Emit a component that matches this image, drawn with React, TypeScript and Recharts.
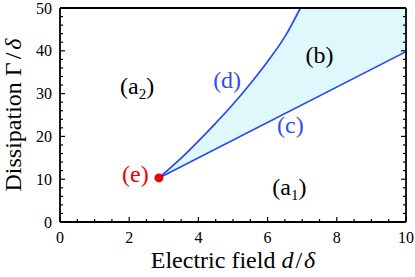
import {
  ComposedChart,
  Line,
  Area,
  Scatter,
  XAxis,
  YAxis,
  Label,
  ReferenceDot,
} from "recharts";

// axis ticks (minor + major)
const X_TICKS = [0, 0.5, 1, 1.5, 2, 2.5, 3, 3.5, 4, 4.5, 5, 5.5, 6, 6.5, 7, 7.5, 8, 8.5, 9, 9.5, 10];
const Y_TICKS = [0, 2, 4, 6, 8, 10, 12, 14, 16, 18, 20, 22, 24, 26, 28, 30, 32, 34, 36, 38, 40, 42, 44, 46, 48, 50];

// curve (d)
const D_X = [2.86, 3.5, 4.0, 4.5, 5.0, 5.5, 6.0, 6.5, 6.95];
const D_Y = [10.3, 14.9, 18.9, 23.1, 27.5, 32.3, 37.5, 43.3, 50];

// line (c)
const C_X = [2.86, 10];
const C_Y = [10.3, 39.8];

// shaded region (b), between (c) and (d), capped at the top edge
const BAND_X = [2.86, 3.5, 4.0, 4.5, 5.0, 5.5, 6.0, 6.5, 6.95, 8, 10];
const BAND_LOW = [10.3, 12.94, 15.0, 17.1, 19.1, 21.2, 23.3, 25.3, 27.2, 31.5, 39.8];
const BAND_HIGH = [10.3, 14.9, 18.9, 23.1, 27.5, 32.3, 37.5, 43.3, 50, 50, 50];

// point (e)
const E_X = [2.86];
const E_Y = [10.3];

// region labels
const LABELS = [
  { text: "(a", sub: "2", x: 2.23, y: 31.3, color: "#000" },
  { text: "(b)", x: 7.5, y: 38.5, color: "#000" },
  { text: "(d)", x: 4.83, y: 32.7, color: "#2f4ff0" },
  { text: "(c)", x: 6.66, y: 22.2, color: "#2f4ff0" },
  { text: "(e)", x: 2.18, y: 10.7, color: "#f00000" },
  { text: "(a", sub: "1", x: 6.63, y: 7.7, color: "#000" },
];

const FONT = "'Liberation Serif', 'Times New Roman', serif";
const BLUE = "#2a48f2";
const serif = { fontFamily: FONT };

const dData = D_X.map((x, i) => ({ x, y: D_Y[i] }));
const cData = C_X.map((x, i) => ({ x, y: C_Y[i] }));
const bandData = BAND_X.map((x, i) => ({ x, range: [BAND_LOW[i], BAND_HIGH[i]] }));
const eData = E_X.map((x, i) => ({ x, y: E_Y[i] }));

const BottomTick = (props: any) => {
  const { x, y, payload } = props;
  const major = payload.value % 2 === 0;
  return (
    <g>
      <line x1={x} x2={x} y1={y} y2={y - (major ? 5 : 3)} stroke="#000" strokeWidth={1.2} />
      {major && (
        <text x={x} y={y + 21} textAnchor="middle" fontSize={16} style={serif} fill="#000">
          {payload.value}
        </text>
      )}
    </g>
  );
};

const TopTick = (props: any) => {
  const { x, y, payload } = props;
  const major = payload.value % 2 === 0;
  return <line x1={x} x2={x} y1={y} y2={y + (major ? 5 : 3)} stroke="#000" strokeWidth={1.2} />;
};

const LeftTick = (props: any) => {
  const { x, y, payload } = props;
  const major = payload.value % 10 === 0;
  return (
    <g>
      <line x1={x} x2={x + (major ? 5 : 3)} y1={y} y2={y} stroke="#000" strokeWidth={1.2} />
      {major && (
        <text x={x - 8} y={y} dy="0.35em" textAnchor="end" fontSize={16} style={serif} fill="#000">
          {payload.value}
        </text>
      )}
    </g>
  );
};

const RightTick = (props: any) => {
  const { x, y, payload } = props;
  const major = payload.value % 10 === 0;
  return <line x1={x} x2={x - (major ? 5 : 3)} y1={y} y2={y} stroke="#000" strokeWidth={1.2} />;
};

const XTitle = (props: any) => {
  const { viewBox } = props;
  return (
    <text x={viewBox.x + viewBox.width / 2} y={viewBox.y + 46} textAnchor="middle" fontSize={24} style={serif} fill="#000">
      Electric field <tspan fontStyle="italic">d</tspan>
      <tspan dx={2}>/</tspan>
      <tspan dx={2} fontStyle="italic">δ</tspan>
    </text>
  );
};

const YTitle = (props: any) => {
  const { viewBox } = props;
  const cx = 21;
  const cy = viewBox.y + viewBox.height / 2;
  return (
    <text
      x={cx}
      y={cy}
      transform={`rotate(-90 ${cx} ${cy})`}
      textAnchor="middle"
      fontSize={24}
      style={serif}
      fill="#000"
    >
      Dissipation Γ<tspan dx={3}>/</tspan>
      <tspan dx={3} fontStyle="italic">δ</tspan>
    </text>
  );
};

const regionLabel = (l: (typeof LABELS)[number]) => (p: any) => (
  <text x={p.cx} y={p.cy + 6} textAnchor="middle" fontSize={24} style={serif} fill={l.color}>
    {l.text}
    {l.sub && (
      <>
        <tspan fontSize={15} dy={5}>
          {l.sub}
        </tspan>
        <tspan dy={-5}>)</tspan>
      </>
    )}
  </text>
);

export default function App() {
  return (
    <div style={{ position: "absolute", left: 0, top: 0, background: "#fff", fontFamily: FONT }}>
      <ComposedChart width={415} height={277} margin={{ top: 7, right: 8, bottom: 0, left: 0 }}>
        <XAxis
          xAxisId={0}
          type="number"
          dataKey="x"
          domain={[0, 10]}
          ticks={X_TICKS}
          interval={0}
          height={55}
          tickSize={0}
          tickMargin={0}
          tickLine={false}
          tick={BottomTick}
          axisLine={{ stroke: "#000", strokeWidth: 1.8 }}
          allowDataOverflow
        >
          <Label content={XTitle} />
        </XAxis>
        <XAxis
          xAxisId="top"
          orientation="top"
          type="number"
          domain={[0, 10]}
          ticks={X_TICKS}
          interval={0}
          height={1}
          tickSize={0}
          tickMargin={0}
          tickLine={false}
          tick={TopTick}
          axisLine={{ stroke: "#000", strokeWidth: 1.8 }}
          allowDataOverflow
        />
        <YAxis
          yAxisId={0}
          type="number"
          domain={[0, 50]}
          ticks={Y_TICKS}
          interval={0}
          width={60}
          tickSize={0}
          tickMargin={0}
          tickLine={false}
          tick={LeftTick}
          axisLine={{ stroke: "#000", strokeWidth: 1.8 }}
          allowDataOverflow
        >
          <Label content={YTitle} />
        </YAxis>
        <YAxis
          yAxisId="right"
          orientation="right"
          type="number"
          domain={[0, 50]}
          ticks={Y_TICKS}
          interval={0}
          width={1}
          tickSize={0}
          tickMargin={0}
          tickLine={false}
          tick={RightTick}
          axisLine={{ stroke: "#000", strokeWidth: 1.8 }}
          allowDataOverflow
        />
        <Area
          data={bandData}
          dataKey="range"
          type="monotone"
          fill="#dff8fc"
          fillOpacity={1}
          stroke="none"
          isAnimationActive={false}
        />
        <Line data={cData} dataKey="y" type="linear" stroke={BLUE} strokeWidth={1.7} dot={false} isAnimationActive={false} />
        <Line data={dData} dataKey="y" type="monotone" stroke={BLUE} strokeWidth={1.7} dot={false} isAnimationActive={false} />
        <Scatter data={eData} dataKey="y" fill="#f00000" shape={(p: any) => <circle cx={p.cx} cy={p.cy} r={4.5} fill="#f00000" />} isAnimationActive={false} />
        {LABELS.map((l) => (
          <ReferenceDot key={l.text + (l.sub ?? "") + l.x} x={l.x} y={l.y} r={0} shape={regionLabel(l)} />
        ))}
      </ComposedChart>
    </div>
  );
}
